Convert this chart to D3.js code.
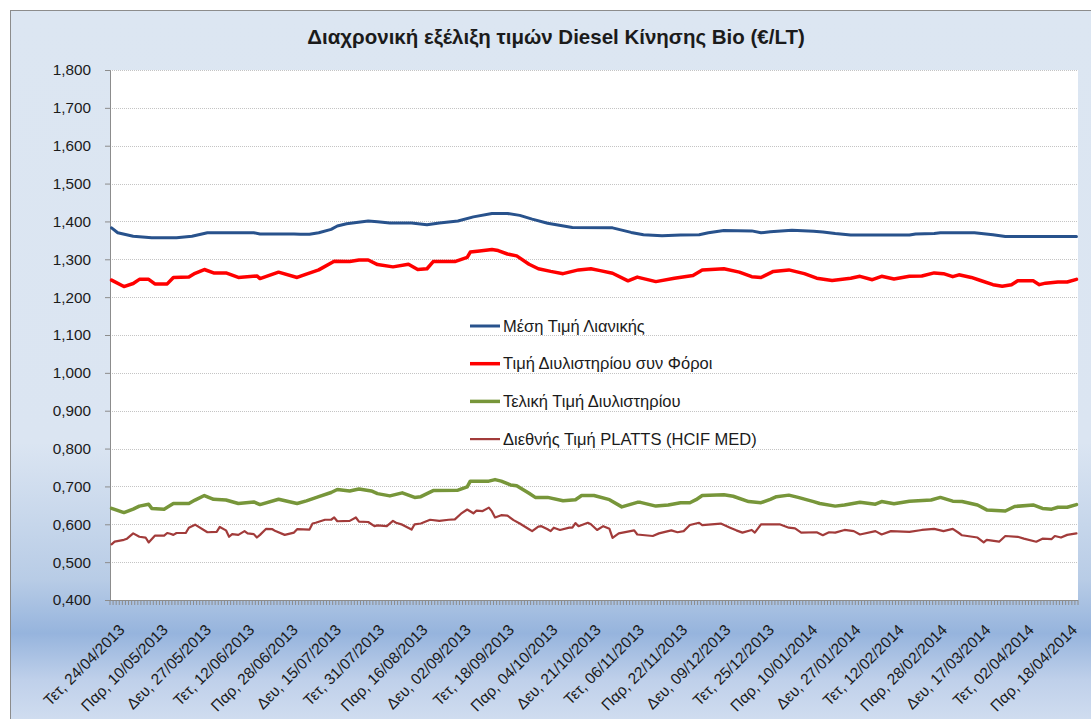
<!DOCTYPE html>
<meta charset="utf-8" />

<!-- Load d3.js -->
<script src="https://d3js.org/d3.v7.js"></script>

<style>
  body {
    margin: 0;
    background: #ffffff;
  }
  text {
    font-family: "Liberation Sans", Arial, sans-serif;
    fill: #1b1b1b;
  }
</style>

<div id="my_dataviz"></div>

<script>
  // values: [trading day index (Mon-Sat from 24/04/2013), €/LT]
  const retail = [
    [0, 1.383], [2, 1.370], [7, 1.361], [13, 1.357], [21, 1.357], [26, 1.361],
    [31, 1.370], [46, 1.370], [48, 1.367], [59, 1.367], [61, 1.366], [64, 1.366],
    [67, 1.370], [71, 1.379], [73, 1.388], [76, 1.394], [83, 1.401], [86, 1.399],
    [90, 1.396], [97, 1.396], [102, 1.391], [106, 1.396], [112, 1.401], [117, 1.412],
    [123, 1.421], [128, 1.421], [132, 1.416], [136, 1.406], [141, 1.395], [149, 1.384],
    [162, 1.383], [168, 1.371], [172, 1.365], [178, 1.362], [184, 1.364], [190, 1.365],
    [193, 1.370], [198, 1.376], [207, 1.375], [210, 1.370], [213, 1.373], [220, 1.377],
    [227, 1.374], [230, 1.372], [234, 1.368], [239, 1.364], [258, 1.364], [260, 1.367],
    [266, 1.368], [268, 1.370], [279, 1.370], [285, 1.365], [289, 1.360], [312, 1.360]
  ];

  const refineryTax = [
    [0, 1.245], [4, 1.228], [7, 1.236], [9, 1.247], [12, 1.247], [14, 1.235],
    [18, 1.235], [20, 1.252], [25, 1.253], [27, 1.263], [30, 1.273], [33, 1.264],
    [37, 1.264], [41, 1.252], [47, 1.256], [48, 1.249], [54, 1.266], [60, 1.252],
    [63, 1.261], [67, 1.272], [72, 1.295], [77, 1.294], [80, 1.298], [83, 1.298],
    [86, 1.286], [91, 1.280], [96, 1.287], [99, 1.273], [102, 1.275], [104, 1.294],
    [111, 1.294], [115, 1.305], [116, 1.319], [119, 1.322], [123, 1.326], [125, 1.323],
    [128, 1.314], [131, 1.309], [135, 1.287], [138, 1.275], [142, 1.268], [146, 1.262],
    [151, 1.272], [155, 1.275], [158, 1.270], [162, 1.263], [167, 1.243], [170, 1.253],
    [176, 1.241], [182, 1.250], [188, 1.257], [191, 1.272], [198, 1.275], [203, 1.266],
    [207, 1.254], [210, 1.252], [214, 1.268], [219, 1.272], [224, 1.262], [228, 1.250],
    [233, 1.244], [239, 1.250], [242, 1.255], [246, 1.246], [249, 1.255], [253, 1.248],
    [258, 1.255], [262, 1.256], [266, 1.264], [269, 1.262], [272, 1.254], [274, 1.259],
    [278, 1.252], [281, 1.244], [285, 1.233], [288, 1.229], [291, 1.233], [293, 1.243],
    [298, 1.243], [300, 1.233], [302, 1.237], [306, 1.240], [309, 1.240], [312, 1.247]
  ];

  const refineryFinal = [
    [0, 0.642], [4, 0.631], [7, 0.640], [9, 0.648], [12, 0.653], [13, 0.642],
    [17, 0.640], [20, 0.655], [25, 0.655], [27, 0.664], [30, 0.676], [33, 0.666],
    [37, 0.664], [41, 0.655], [46, 0.659], [48, 0.652], [54, 0.666], [60, 0.655],
    [63, 0.662], [67, 0.673], [71, 0.684], [73, 0.692], [77, 0.688], [80, 0.693],
    [84, 0.688], [86, 0.681], [90, 0.675], [94, 0.683], [98, 0.671], [100, 0.673],
    [104, 0.689], [112, 0.690], [115, 0.699], [116, 0.714], [122, 0.714], [124, 0.718],
    [126, 0.714], [129, 0.704], [131, 0.702], [135, 0.682], [137, 0.671], [141, 0.671],
    [146, 0.662], [150, 0.665], [152, 0.676], [156, 0.676], [161, 0.665], [165, 0.646],
    [170, 0.658], [171, 0.658], [176, 0.648], [180, 0.651], [184, 0.657], [187, 0.657],
    [189, 0.665], [191, 0.676], [198, 0.678], [201, 0.674], [206, 0.660], [210, 0.657],
    [213, 0.666], [215, 0.673], [219, 0.677], [222, 0.671], [227, 0.660], [229, 0.655],
    [234, 0.648], [237, 0.651], [242, 0.658], [247, 0.653], [249, 0.660], [253, 0.654],
    [258, 0.661], [265, 0.664], [268, 0.671], [272, 0.661], [275, 0.660], [280, 0.651],
    [283, 0.638], [289, 0.635], [292, 0.647], [298, 0.651], [301, 0.642], [304, 0.640],
    [306, 0.645], [309, 0.645], [312, 0.652]
  ];

  const platts = [
    [0, 0.547], [1, 0.554], [4, 0.559], [5, 0.562], [7, 0.576], [9, 0.567],
    [11, 0.565], [12, 0.552], [14, 0.570], [17, 0.570], [18, 0.577], [19, 0.575],
    [20, 0.572], [21, 0.577], [24, 0.577], [25, 0.591], [27, 0.599], [31, 0.579],
    [34, 0.580], [35, 0.593], [37, 0.584], [38, 0.567], [39, 0.574], [41, 0.572],
    [43, 0.582], [44, 0.576], [46, 0.574], [47, 0.565], [48, 0.572], [50, 0.588],
    [52, 0.587], [53, 0.582], [56, 0.572], [58, 0.576], [59, 0.578], [60, 0.587],
    [64, 0.586], [65, 0.602], [66, 0.604], [69, 0.612], [71, 0.612], [72, 0.618],
    [73, 0.608], [77, 0.609], [79, 0.618], [80, 0.607], [83, 0.606], [85, 0.595],
    [86, 0.597], [89, 0.595], [91, 0.609], [92, 0.604], [94, 0.599], [97, 0.586],
    [98, 0.600], [100, 0.602], [103, 0.612], [106, 0.609], [109, 0.612], [111, 0.613],
    [113, 0.628], [115, 0.639], [117, 0.629], [118, 0.636], [120, 0.635], [122, 0.644],
    [123, 0.634], [124, 0.618], [126, 0.624], [128, 0.623], [130, 0.611], [132, 0.602],
    [135, 0.587], [136, 0.582], [138, 0.594], [139, 0.595], [141, 0.587], [142, 0.582],
    [143, 0.591], [145, 0.585], [148, 0.591], [149, 0.591], [150, 0.603], [151, 0.595],
    [154, 0.604], [155, 0.600], [157, 0.585], [159, 0.595], [161, 0.588], [162, 0.564],
    [164, 0.576], [169, 0.584], [170, 0.573], [175, 0.569], [177, 0.576], [181, 0.584],
    [183, 0.579], [185, 0.582], [187, 0.598], [190, 0.604], [191, 0.598], [194, 0.600],
    [197, 0.602], [200, 0.591], [202, 0.584], [204, 0.578], [207, 0.585], [208, 0.578],
    [210, 0.600], [216, 0.600], [219, 0.591], [221, 0.589], [223, 0.578], [228, 0.579],
    [230, 0.571], [232, 0.579], [234, 0.578], [237, 0.585], [240, 0.582], [242, 0.573],
    [247, 0.582], [249, 0.573], [252, 0.582], [258, 0.580], [262, 0.585], [266, 0.588],
    [269, 0.582], [272, 0.588], [274, 0.577], [275, 0.571], [280, 0.565], [282, 0.552],
    [283, 0.559], [287, 0.554], [289, 0.569], [293, 0.567], [295, 0.562], [299, 0.554],
    [301, 0.562], [304, 0.561], [305, 0.569], [307, 0.565], [309, 0.572], [312, 0.576]
  ];

  const seriesNames = [
    "Μέση Τιμή Λιανικής",
    "Τιμή Διυλιστηρίου συν Φόροι",
    "Τελική Τιμή Διυλιστηρίου",
    "Διεθνής Τιμή PLATTS (HCIF MED)"
  ];

  // one label every 14 trading days
  const tickLabels = [
    "Τετ, 24/04/2013", "Παρ, 10/05/2013", "Δευ, 27/05/2013", "Τετ, 12/06/2013",
    "Παρ, 28/06/2013", "Δευ, 15/07/2013", "Τετ, 31/07/2013", "Παρ, 16/08/2013",
    "Δευ, 02/09/2013", "Τετ, 18/09/2013", "Παρ, 04/10/2013", "Δευ, 21/10/2013",
    "Τετ, 06/11/2013", "Παρ, 22/11/2013", "Δευ, 09/12/2013", "Τετ, 25/12/2013",
    "Παρ, 10/01/2014", "Δευ, 27/01/2014", "Τετ, 12/02/2014", "Παρ, 28/02/2014",
    "Δευ, 17/03/2014", "Τετ, 02/04/2014", "Παρ, 18/04/2014"
  ];
  const labelStep = 14;

  const title = "Διαχρονική εξέλιξη τιμών Diesel Κίνησης Bio (€/LT)";

  // category axis: every day except Sunday, 24/04/2013 - 23/04/2014
  const categories = d3
    .timeDay.range(new Date(2013, 3, 24), new Date(2014, 3, 24))
    .filter((d) => d.getDay() !== 0);

  const series = [retail, refineryTax, refineryFinal, platts];
  const colors = ["#28528c", "#ff0000", "#77963a", "#a23b3a"];
  const widths = [3, 3.5, 3.5, 2.2];

  // set the dimensions and margins of the graph
  const W = 1091,
    H = 719;
  const margin = { top: 70, right: 13, bottom: 119, left: 110 },
    width = W - margin.left - margin.right,
    height = H - margin.top - margin.bottom;

  const root = d3
    .select("#my_dataviz")
    .append("svg")
    .attr("width", W)
    .attr("height", H);

  // chart background (Excel style gradient)
  const grad = root
    .append("defs")
    .append("linearGradient")
    .attr("id", "bg")
    .attr("x1", 0)
    .attr("y1", 0)
    .attr("x2", 0)
    .attr("y2", 1);
  [
    [0, "#dce6f2"],
    [0.6, "#dbe5f2"],
    [0.79, "#b8cce6"],
    [0.865, "#96b4dd"],
    [0.93, "#bfd0ea"],
    [1, "#d4e0f1"]
  ].forEach((s) => grad.append("stop").attr("offset", s[0]).attr("stop-color", s[1]));

  root
    .append("rect")
    .attr("x", 10.5)
    .attr("y", 10.5)
    .attr("width", 1100)
    .attr("height", 720)
    .attr("fill", "url(#bg)")
    .attr("stroke", "#8c8c8c")
    .attr("stroke-width", 1);

  root
    .append("text")
    .attr("x", 556)
    .attr("y", 44)
    .attr("text-anchor", "middle")
    .style("font-size", "20.5px")
    .style("font-weight", "bold")
    .text(title);

  const svg = root
    .append("g")
    .attr("transform", `translate(${margin.left}, ${margin.top})`);

  svg
    .append("rect")
    .attr("width", width)
    .attr("height", height)
    .attr("fill", "white");

  const x = d3
    .scaleBand()
    .domain(d3.range(categories.length))
    .range([0, width]);
  const cx = (i) => x(i) + x.bandwidth() / 2;

  const y = d3.scaleLinear().domain([0.4, 1.8]).range([height, 0]);
  const yTicks = d3.range(4, 19).map((d) => d / 10);
  const fmt = (d) => d3.format(".3f")(d).replace(".", ",");

  // gridlines
  svg
    .selectAll(".grid")
    .data(yTicks.filter((d) => d > 0.4))
    .join("line")
    .attr("class", "grid")
    .attr("x1", 0)
    .attr("x2", width)
    .attr("y1", (d) => Math.round(y(d)) + 0.5)
    .attr("y2", (d) => Math.round(y(d)) + 0.5)
    .attr("stroke", "#c4c4c4")
    .attr("stroke-dasharray", "1,1");

  // Y axis
  const yAxis = svg
    .append("g")
    .call(d3.axisLeft(y).tickValues(yTicks).tickFormat(fmt).tickSize(5).tickPadding(14));
  yAxis.select(".domain").attr("stroke", "#8c8c8c");
  yAxis.selectAll(".tick line").attr("stroke", "#8c8c8c");
  yAxis.selectAll("text").style("font-size", "15.3px").style("fill", "#1b1b1b");

  // X axis: tick mark at every category boundary
  const xAxis = svg.append("g").attr("transform", `translate(0, ${height})`);
  xAxis
    .selectAll("line")
    .data(d3.range(categories.length + 1))
    .join("line")
    .attr("x1", (i) => (i < categories.length ? x(i) : width))
    .attr("x2", (i) => (i < categories.length ? x(i) : width))
    .attr("y1", 0)
    .attr("y2", 5)
    .attr("stroke", "#8c8c8c");
  xAxis
    .append("line")
    .attr("x1", 0)
    .attr("x2", width)
    .attr("y1", 0.5)
    .attr("y2", 0.5)
    .attr("stroke", "#8c8c8c");

  xAxis
    .selectAll(".xlabel")
    .data(tickLabels)
    .join("text")
    .attr("class", "xlabel")
    .attr("text-anchor", "end")
    .attr("transform", (d, k) => `translate(${cx(k * labelStep) + 14}, 31) rotate(-45)`)
    .style("font-size", "15.5px")
    .text((d) => d);

  // Lines
  const line = d3
    .line()
    .x((d) => cx(d[0]))
    .y((d) => y(d[1]));

  svg
    .selectAll(".series")
    .data(series)
    .join("path")
    .attr("class", "series")
    .attr("d", line)
    .attr("fill", "none")
    .attr("stroke", (d, k) => colors[k])
    .attr("stroke-width", (d, k) => widths[k])
    .attr("stroke-linejoin", "round")
    .attr("stroke-linecap", "round");

  // Legend
  const legend = svg
    .selectAll(".legend")
    .data(seriesNames)
    .join("g")
    .attr("class", "legend")
    .attr("transform", (d, k) => `translate(${470 - margin.left}, ${326 - margin.top + k * 37.7})`);
  legend
    .append("line")
    .attr("x1", 0)
    .attr("x2", 30)
    .attr("stroke", (d, k) => colors[k])
    .attr("stroke-width", (d, k) => widths[k]);
  legend
    .append("text")
    .attr("x", 33)
    .attr("dy", "0.35em")
    .style("font-size", "16.5px")
    .text((d) => d);
</script>
